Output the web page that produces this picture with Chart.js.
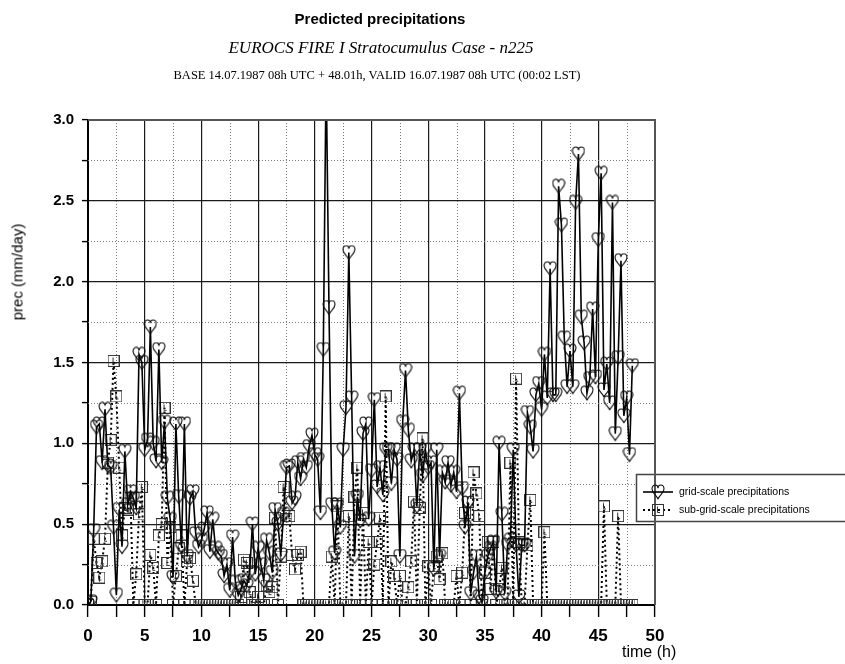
<!DOCTYPE html>
<html>
<head>
<meta charset="utf-8">
<title>Predicted precipitations</title>
<script src="https://cdn.jsdelivr.net/npm/chart.js@4.4.1/dist/chart.umd.min.js"></script>
<style>
  html, body { margin: 0; padding: 0; background: #fff; }
  #wrap { position: relative; width: 845px; height: 664px; overflow: hidden; }
  #chart { position: absolute; left: 0; top: 0; }
  .txt { position: absolute; white-space: nowrap; color: #000; line-height: 1; }
  #t1 { left: 0; width: 760px; top: 10px; text-align: center; font: bold 15px 'Liberation Sans', Arial, sans-serif; }
  #t2 { left: 0; width: 762px; top: 38px; text-align: center; font: italic 17px 'Liberation Serif', 'Times New Roman', serif; }
  #t3 { left: 0; width: 754px; top: 68px; text-align: center; font: 12.5px 'Liberation Serif', 'Times New Roman', serif; }
  #ylab { left: 17px; top: 272px; transform: translate(-50%, -50%) rotate(-90deg); font: 15px 'Liberation Sans', Arial, sans-serif; }
  #xlab { left: 622px; top: 643px; font: 16px 'Liberation Sans Narrow', 'Liberation Sans', Arial, sans-serif; }
</style>
</head>
<body>
<div id="wrap">
  <canvas id="chart" width="845" height="664"></canvas>
  <div class="txt" id="t1">Predicted precipitations</div>
  <div class="txt" id="t2">EUROCS FIRE I Stratocumulus Case - n225</div>
  <div class="txt" id="t3">BASE 14.07.1987 08h UTC + 48.01h, VALID 16.07.1987 08h UTC (00:02 LST)</div>
  <div class="txt" id="ylab">prec (mm/day)</div>
  <div class="txt" id="xlab">time (h)</div>
</div>
<script>
// model output every 15 minutes, t = 0 .. 48 h
const timeStepH = 0.25;

// grid-scale precipitation (mm/day), one row per 2 hours
const gridScale = [
  0.00, 0.02, 0.46, 1.10, 1.12, 0.88, 1.21, 0.86,
  0.85, 0.48, 0.06, 0.59, 0.36, 0.95, 0.62, 0.70,
  0.66, 0.60, 1.55, 1.50, 0.96, 1.02, 1.72, 1.00,
  0.89, 1.58, 0.88, 1.13, 0.66, 0.53, 0.17, 1.12,
  0.67, 0.36, 1.12, 0.30, 0.66, 0.70, 0.44, 0.36,
  0.40, 0.47, 0.57, 0.33, 0.53, 0.35, 0.32, 0.30,
  0.18, 0.25, 0.09, 0.42, 0.14, 0.06, 0.10, 0.15,
  0.12, 0.20, 0.50, 0.19, 0.35, 0.25, 0.15, 0.40,
  0.32, 0.20, 0.59, 0.50, 0.31, 0.56, 0.85, 0.86,
  0.63, 0.66, 0.88, 0.78, 0.90, 0.85, 0.98, 1.05,
  0.93, 0.90, 0.57, 1.58, 3.30, 1.84, 0.62, 0.32,
  0.62, 0.48, 0.96, 1.22, 2.18, 1.28, 0.30, 0.67,
  0.52, 1.06, 1.12, 0.53, 0.83, 1.27, 0.73, 0.85,
  0.68, 0.96, 0.96, 0.75, 0.96, 0.90, 0.30, 1.13,
  1.45, 1.08, 0.89, 0.96, 0.61, 0.96, 0.80, 0.96,
  0.85, 0.88, 0.22, 0.96, 0.30, 0.82, 0.76, 0.88,
  0.74, 0.82, 0.70, 1.31, 0.72, 0.48, 0.63, 0.07,
  0.20, 0.30, 0.05, 0.02, 0.20, 0.30, 0.35, 0.39,
  0.08, 1.00, 0.56, 0.07, 0.37, 0.40, 0.96, 0.37,
  0.05, 0.37, 0.37, 1.19, 1.10, 0.95, 1.30, 1.37,
  1.21, 1.55, 1.28, 2.08, 1.30, 1.30, 2.59, 2.35,
  1.65, 1.35, 1.57, 1.35, 2.49, 2.79, 1.78, 1.62,
  1.31, 1.40, 1.83, 1.41, 2.26, 2.67, 1.33, 1.49,
  1.25, 2.49, 1.06, 1.53, 2.13, 1.17, 1.28, 0.93,
  1.48
];

// sub-grid-scale (convective) precipitation (mm/day)
const subGridScale = [
  0.00, 0.02, 0.41, 0.26, 0.17, 0.27, 0.41, 0.88,
  1.02, 1.51, 1.29, 0.85, 0.43, 0.60, 0.59, 0.66,
  0.00, 0.19, 0.56, 0.73, 0.00, 0.00, 0.31, 0.23,
  0.00, 0.43, 0.50, 1.22, 0.26, 0.48, 0.00, 0.18,
  0.35, 0.43, 0.00, 0.27, 0.29, 0.15, 0.00, 0.00,
  0.00, 0.00, 0.00, 0.00, 0.00, 0.00, 0.00, 0.00,
  0.00, 0.00, 0.00, 0.00, 0.00, 0.00, 0.05, 0.28,
  0.26, 0.08, 0.00, 0.00, 0.05, 0.00, 0.00, 0.12,
  0.08, 0.11, 0.54, 0.00, 0.30, 0.73, 0.53, 0.55,
  0.31, 0.22, 0.31, 0.33, 0.00, 0.00, 0.00, 0.00,
  0.00, 0.00, 0.00, 0.00, 0.00, 0.00, 0.30, 0.00,
  0.61, 0.00, 0.00, 0.00, 0.55, 0.00, 0.67, 0.85,
  0.00, 0.57, 0.00, 0.39, 0.00, 0.25, 0.39, 0.54,
  0.00, 1.29, 0.00, 0.27, 0.18, 0.00, 0.18, 0.00,
  0.00, 0.11, 0.27, 0.64, 0.00, 0.60, 1.03, 0.00,
  0.24, 0.00, 0.24, 0.30, 0.16, 0.32, 0.00, 0.00,
  0.00, 0.00, 0.18, 0.00, 0.20, 0.57, 0.64, 0.00,
  0.82, 0.69, 0.55, 0.00, 0.20, 0.39, 0.10, 0.39,
  0.00, 0.10, 0.23, 0.00, 0.00, 0.88, 0.00, 1.40,
  0.39, 0.00, 0.00, 0.37, 0.65, 0.00, 0.00, 0.00,
  0.00, 0.45, 0.00, 0.00, 0.00, 0.00, 0.00, 0.00,
  0.00, 0.00, 0.00, 0.00, 0.00, 0.00, 0.00, 0.00,
  0.00, 0.00, 0.00, 0.00, 0.00, 0.00, 0.61, 0.00,
  0.00, 0.00, 0.00, 0.55, 0.00, 0.00, 0.00, 0.00,
  0.00
];

const seriesLabels = ['grid-scale precipitations', 'sub-grid-scale precipitations'];

// axis ranges / ticks
const xRange = [0, 50], xMajor = 5, xMinor = 2.5;
const yRange = [0, 3], yMajor = 0.5, yMinor = 0.25;

const tickFont = { family: "'Liberation Sans Narrow', 'Liberation Sans', Arial, sans-serif", size: 17, weight: 'bold' };
const yTickFont = { family: "'Liberation Sans', Arial, sans-serif", size: 15, weight: 'bold' };

function isMultiple(v, step) {
    const r = v / step;
    return Math.abs(r - Math.round(r)) < 1e-6;
}

// heart marker (outline only)
function makeHeart() {
    const c = document.createElement('canvas');
    c.width = 14; c.height = 16;
    const g = c.getContext('2d');
    g.strokeStyle = '#111';
    g.lineWidth = 1.1;
    g.beginPath();
    g.moveTo(7, 15);
    g.bezierCurveTo(5.5, 11, 1, 9, 1, 5);
    g.bezierCurveTo(1, 2.2, 2.8, 1, 4.3, 1);
    g.bezierCurveTo(6, 1, 7, 2.5, 7, 4.2);
    g.bezierCurveTo(7, 2.5, 8, 1, 9.7, 1);
    g.bezierCurveTo(11.2, 1, 13, 2.2, 13, 5);
    g.bezierCurveTo(13, 9, 8.5, 11, 7, 15);
    g.stroke();
    return c;
}

// square marker with a small inner tick
function makeSquare() {
    const c = document.createElement('canvas');
    c.width = 12; c.height = 12;
    const g = c.getContext('2d');
    g.strokeStyle = '#333';
    g.lineWidth = 1;
    g.strokeRect(0.5, 0.5, 11, 11);
    g.beginPath();
    g.moveTo(5.5, 2.5); g.lineTo(5.5, 8.5);
    g.moveTo(5.5, 8.5); g.lineTo(8, 8.5);
    g.stroke();
    return c;
}

const heartImg = makeHeart();
const squareImg = makeSquare();

const gridPts = gridScale.map((v, i) => ({ x: i * timeStepH, y: v }));
const subPts = subGridScale.map((v, i) => ({ x: i * timeStepH, y: v }));

// dotted minor grid, frame and legend
const decorPlugin = {
    id: 'decor',
    beforeDatasetsDraw(chart) {
        const { ctx, chartArea: a, scales } = chart;
        ctx.save();
        ctx.strokeStyle = '#7a7a7a';
        ctx.lineWidth = 1;
        ctx.setLineDash([1, 2]);
        for (let v = xRange[0] + xMinor; v < xRange[1]; v += xMajor) {
            const px = Math.round(scales.x.getPixelForValue(v)) + 0.5;
            ctx.beginPath(); ctx.moveTo(px, a.top); ctx.lineTo(px, a.bottom); ctx.stroke();
        }
        for (let v = yRange[0] + yMinor; v < yRange[1]; v += yMajor) {
            const py = Math.round(scales.y.getPixelForValue(v)) + 0.5;
            ctx.beginPath(); ctx.moveTo(a.left, py); ctx.lineTo(a.right, py); ctx.stroke();
        }
        ctx.restore();
    },
    afterDraw(chart) {
        const { ctx, chartArea: a } = chart;
        ctx.save();

        // legend box
        const bx = a.right - 19, by = 474, bw = 230, bh = 47;
        ctx.fillStyle = '#fff';
        ctx.fillRect(bx, by, bw, bh);
        ctx.strokeStyle = '#444';
        ctx.lineWidth = 1.5;
        ctx.strokeRect(bx + 0.5, by + 0.5, bw, bh);

        // frame: top and right
        ctx.strokeStyle = '#555';
        ctx.lineWidth = 2;
        ctx.beginPath();
        ctx.moveTo(a.left, a.top);
        ctx.lineTo(a.right, a.top);
        ctx.lineTo(a.right, a.bottom);
        ctx.stroke();

        const ds = chart.data.datasets;
        const rows = [by + 18, by + 36];
        ctx.font = "10.5px 'Liberation Sans', Arial, sans-serif";
        ctx.textBaseline = 'middle';
        ctx.fillStyle = '#000';
        rows.forEach((ry, k) => {
            const d = ds[k];
            ctx.strokeStyle = '#000';
            ctx.lineWidth = d.borderWidth;
            ctx.setLineDash(d.borderDash || []);
            ctx.beginPath();
            ctx.moveTo(bx + 7, ry);
            ctx.lineTo(bx + 37, ry);
            ctx.stroke();
            ctx.setLineDash([]);
            const img = d.pointStyle;
            ctx.drawImage(img, bx + 22 - img.width / 2, ry - img.height / 2);
            ctx.fillText(d.label, bx + 43, ry);
        });
        ctx.restore();
    }
};

const chart = new Chart(document.getElementById('chart').getContext('2d'), {
    type: 'line',
    data: {
        datasets: [
            {
                label: seriesLabels[0],
                data: gridPts,
                borderColor: '#000',
                borderWidth: 1.6,
                pointStyle: heartImg,
                pointRadius: 6,
                pointHoverRadius: 6,
                tension: 0,
                order: 1
            },
            {
                label: seriesLabels[1],
                data: subPts,
                borderColor: '#000',
                borderWidth: 2,
                borderDash: [2, 3],
                pointStyle: squareImg,
                pointRadius: 6,
                pointHoverRadius: 6,
                tension: 0,
                order: 2
            }
        ]
    },
    options: {
        responsive: false,
        animation: false,
        devicePixelRatio: 1,
        events: [],
        layout: { padding: { left: 0, top: 120, right: 190, bottom: 14 } },
        plugins: {
            legend: { display: false },
            tooltip: { enabled: false }
        },
        scales: {
            x: {
                type: 'linear',
                min: xRange[0],
                max: xRange[1],
                afterFit(scale) { scale.height = 45; },
                ticks: {
                    stepSize: xMinor,
                    autoSkip: false,
                    maxRotation: 0,
                    padding: 9,
                    color: '#000',
                    font: tickFont,
                    callback: v => isMultiple(v, xMajor) ? String(v) : ''
                },
                grid: {
                    color: c => (c.tick && isMultiple(c.tick.value, xMajor)) ? '#1a1a1a' : 'rgba(0,0,0,0)',
                    lineWidth: 1.2,
                    tickLength: 12,
                    tickColor: '#000',
                    tickWidth: 1.4
                },
                border: { display: true, color: '#000', width: 2 }
            },
            y: {
                min: yRange[0],
                max: yRange[1],
                afterFit(scale) { scale.width = 88; },
                ticks: {
                    stepSize: yMinor,
                    autoSkip: false,
                    padding: 8,
                    color: '#000',
                    font: yTickFont,
                    callback: v => isMultiple(v, yMajor) ? v.toFixed(1) : ''
                },
                grid: {
                    color: c => (c.tick && isMultiple(c.tick.value, yMajor)) ? '#1a1a1a' : 'rgba(0,0,0,0)',
                    lineWidth: 1.2,
                    tickLength: 6,
                    tickColor: '#000',
                    tickWidth: 1.4
                },
                border: { display: true, color: '#000', width: 2 }
            }
        }
    },
    plugins: [decorPlugin]
});
</script>
</body>
</html>
